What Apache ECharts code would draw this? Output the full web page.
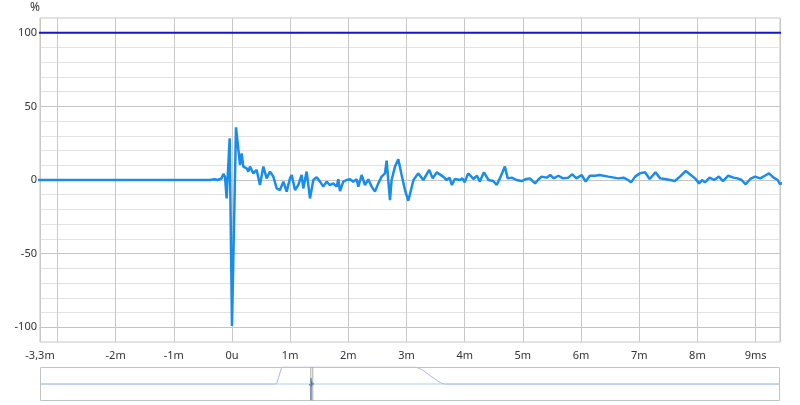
<!DOCTYPE html>
<html>
<head>
<meta charset="utf-8">
<style>
  html, body { margin: 0; padding: 0; background: #fff; }
  #chart { width: 800px; height: 405px; }
</style>
<script src="https://cdn.jsdelivr.net/npm/echarts@6/dist/echarts.min.js"></script>
</head>
<body>
<div id="chart"></div>
<script>
// impulse response, time in ms, value in %
var impulseTime = [
  -860, -3.3, -0.38, -0.3, -0.25, -0.18, -0.149, -0.12, -0.092, -0.04,
  0, 0.069, 0.138, 0.166, 0.195, 0.252, 0.281, 0.309, 0.367, 0.424,
  0.481, 0.539, 0.596, 0.653, 0.711, 0.768, 0.825, 0.883, 0.94, 0.997,
  1.026, 1.083, 1.14, 1.197, 1.226, 1.283, 1.341, 1.398, 1.455, 1.513,
  1.57, 1.627, 1.684, 1.742, 1.799, 1.828, 1.856, 1.914, 1.971, 2.028,
  2.085, 2.143, 2.171, 2.229, 2.286, 2.343, 2.401, 2.458, 2.515, 2.572,
  2.63, 2.658, 2.716, 2.744, 2.802, 2.859, 2.916, 2.974, 3.031, 3.07,
  3.12, 3.2, 3.29, 3.39, 3.45, 3.52, 3.63, 3.69, 3.74, 3.78,
  3.83, 3.92, 3.96, 4.0, 4.06, 4.15, 4.21, 4.26, 4.33, 4.41,
  4.49, 4.55, 4.61, 4.69, 4.74, 4.81, 4.89, 4.98, 5.06, 5.12,
  5.21, 5.26, 5.32, 5.41, 5.47, 5.53, 5.61, 5.69, 5.78, 5.85,
  5.92, 6.01, 6.08, 6.15, 6.24, 6.32, 6.47, 6.64, 6.73, 6.81,
  6.86, 6.93, 7.01, 7.1, 7.18, 7.28, 7.36, 7.44, 7.53, 7.61,
  7.7, 7.8, 7.87, 7.96, 8.03, 8.08, 8.13, 8.21, 8.29, 8.37,
  8.44, 8.53, 8.62, 8.69, 8.76, 8.83, 8.91, 8.99, 9.08, 9.16,
  9.23, 9.31, 9.38, 9.42, 9.6, 12, 1490
];
var impulseValue = [
  0, 0, 0, 0.5, 0, 1, 4.1, 2.3, -12.5, 28.3,
  -99.1, 35.8, 10.2, 18.1, 9.1, 7.9, 5.7, 9.1, 4.5, 6.8,
  -3.4, 9.1, 1.1, 5.7, 2.3, -5.7, -6.8, -1.1, -7.9, 1.1,
  3.4, -6.8, -3.4, 3.4, -5.7, 5.7, -12.5, 0, 1.8, -1.1,
  -4.5, -1.1, -3.4, -2.3, -4.5, 0.5, -7.5, -1.1, 0, 0.5,
  -1.1, 0.5, -4.5, 3.4, -3.4, 0.5, -4.5, -7.9, -2.3, 2.3,
  4.5, 13.2, -13.6, 0, 9.1, 14.1, 3.4, -6.8, -14.1, -8,
  0, 4.5, 0, 6.8, 1.1, 5.2, 2.3, 0, 1.6, -3.4,
  0.7, 0, 1.1, -1.6, 4.5, 0.7, 2.9, -1.1, 5.2, 0,
  -0.7, -3.4, 1.6, 9.1, 1.1, 1.6, 0, -0.7, 0.7, 1.1,
  -2.3, 0, 2.3, 1.6, 3.4, 1.1, 2.9, 1.1, 1.6, 3.9,
  1.1, 3.4, -1.1, 2.9, 2.9, 3.4, 2.3, 1.1, 1.6, 0,
  -1.6, 2.3, 4.5, 5.2, 0.7, 5.2, 1.1, 0.7, 0, -0.7,
  2.3, 6.1, 3.9, 1.1, -2.3, 0, -1.6, 1.6, 0, 2.3,
  -0.7, 2.9, 1.6, 1.1, 0, -2.9, 0.7, 2.3, 1.1, 2.9,
  4.5, 1.6, 0, -2.9, 1, 0, 0
];

// analysis window, time in ms, value in %
var windowTime = [-860, -109, -92, 334, 355, 376, 398, 413, 424, 1490];
var windowValue = [0, 0, 100, 100, 82, 53, 24, 6, 0, 0];

// visible range of the main plot (ms)
var viewStart = -3.3;
var viewEnd = 9.42;

var xTickValues = [-3.3, -2, -1, 0, 1, 2, 3, 4, 5, 6, 7, 8, 9];
var xTickLabels = ['-3,3m', '-2m', '-1m', '0u', '1m', '2m', '3m', '4m', '5m', '6m', '7m', '8m', '9ms'];
var yTickValues = [-100, -50, 0, 50, 100];

function pairs(xs, ys) {
  var out = [];
  for (var i = 0; i < xs.length; i++) out.push([xs[i], ys[i]]);
  return out;
}

var impulseData = pairs(impulseTime, impulseValue);
var windowData = pairs(windowTime, windowValue);
var impulseInView = impulseData.filter(function (p) {
  return p[0] >= viewStart - 0.5 && p[0] <= viewEnd + 0.5;
});

var font = 'Noto Sans';
var chart = echarts.init(document.getElementById('chart'));

chart.setOption({
  animation: false,
  textStyle: { fontFamily: font },
  grid: [
    { left: 40, right: 20, top: 18, bottom: 63, show: true, borderColor: '#c4c4c4', borderWidth: 1, backgroundColor: 'transparent' },
    { left: 40, right: 20, top: 367, height: 34, show: false }
  ],
  xAxis: [
    {
      type: 'value',
      gridIndex: 0,
      minInterval: 1,
      maxInterval: 1,
      axisLine: { show: false, onZero: false },
      axisTick: { show: false },
      splitLine: { show: true, lineStyle: { color: '#c8c8c8', width: 1 } },
      axisLabel: {
        color: '#333',
        fontSize: 11,
        margin: 8,
        showMinLabel: true,
        showMaxLabel: false,
        formatter: function (v) {
          for (var i = 0; i < xTickValues.length; i++) {
            if (Math.abs(v - xTickValues[i]) < 1e-6) return xTickLabels[i];
          }
          return '';
        }
      }
    },
    {
      type: 'value',
      gridIndex: 1,
      min: impulseTime[0],
      max: impulseTime[impulseTime.length - 1],
      show: false
    }
  ],
  yAxis: [
    {
      type: 'value',
      gridIndex: 0,
      min: -110,
      max: 110,
      interval: 10,
      name: '%',
      nameGap: 4,
      nameTextStyle: { color: '#333', fontSize: 12, align: 'right' },
      axisLine: { show: false, onZero: false },
      axisTick: { show: false },
      splitLine: {
        show: true,
        lineStyle: { color: ['#e2e2e2', '#c4c4c4', '#e2e2e2', '#e2e2e2', '#e2e2e2'], width: 1 }
      },
      axisLabel: {
        color: '#333',
        fontSize: 11,
        margin: 3,
        formatter: function (v) {
          return yTickValues.indexOf(v) >= 0 ? String(v) : '';
        }
      }
    },
    {
      type: 'value',
      gridIndex: 1,
      min: -100,
      max: 100,
      show: false
    }
  ],
  dataZoom: [
    {
      type: 'slider',
      xAxisIndex: 0,
      filterMode: 'none',
      startValue: viewStart,
      endValue: viewEnd,
      left: 40,
      right: 20,
      top: 367,
      height: 34,
      showDataShadow: false,
      showDetail: false,
      brushSelect: false,
      moveHandleSize: 0,
      backgroundColor: 'transparent',
      borderColor: '#c4c4c4',
      fillerColor: 'rgba(190,190,190,0.15)',
      handleIcon: 'path://M0,0H1V40H0Z',
      handleSize: '100%',
      handleStyle: { color: '#a8a8a8', borderWidth: 0 },
      emphasis: { handleStyle: { color: '#a8a8a8', borderWidth: 0 } }
    }
  ],
  series: [
    {
      name: 'window',
      type: 'line',
      xAxisIndex: 0,
      yAxisIndex: 0,
      data: windowData,
      showSymbol: false,
      lineStyle: { color: '#1717c9', width: 2 },
      itemStyle: { color: '#1717c9' },
      silent: true,
      z: 3
    },
    {
      name: 'impulse',
      type: 'line',
      xAxisIndex: 0,
      yAxisIndex: 0,
      data: impulseData,
      showSymbol: false,
      lineStyle: { color: '#1a8de8', width: 2.5 },
      itemStyle: { color: '#1a8de8' },
      silent: true,
      z: 4
    },
    {
      name: 'window overview',
      type: 'line',
      xAxisIndex: 1,
      yAxisIndex: 1,
      data: windowData,
      showSymbol: false,
      lineStyle: { color: '#b4b4e6', width: 1 },
      silent: true
    },
    {
      name: 'impulse overview',
      type: 'line',
      xAxisIndex: 1,
      yAxisIndex: 1,
      data: impulseData,
      showSymbol: false,
      lineStyle: { color: '#aacfee', width: 1 },
      silent: true
    },
    {
      name: 'impulse overview selected',
      type: 'line',
      xAxisIndex: 1,
      yAxisIndex: 1,
      data: impulseInView,
      showSymbol: false,
      lineStyle: { color: '#1c63b8', width: 1.5 },
      silent: true
    }
  ]
});
</script>
</body>
</html>
